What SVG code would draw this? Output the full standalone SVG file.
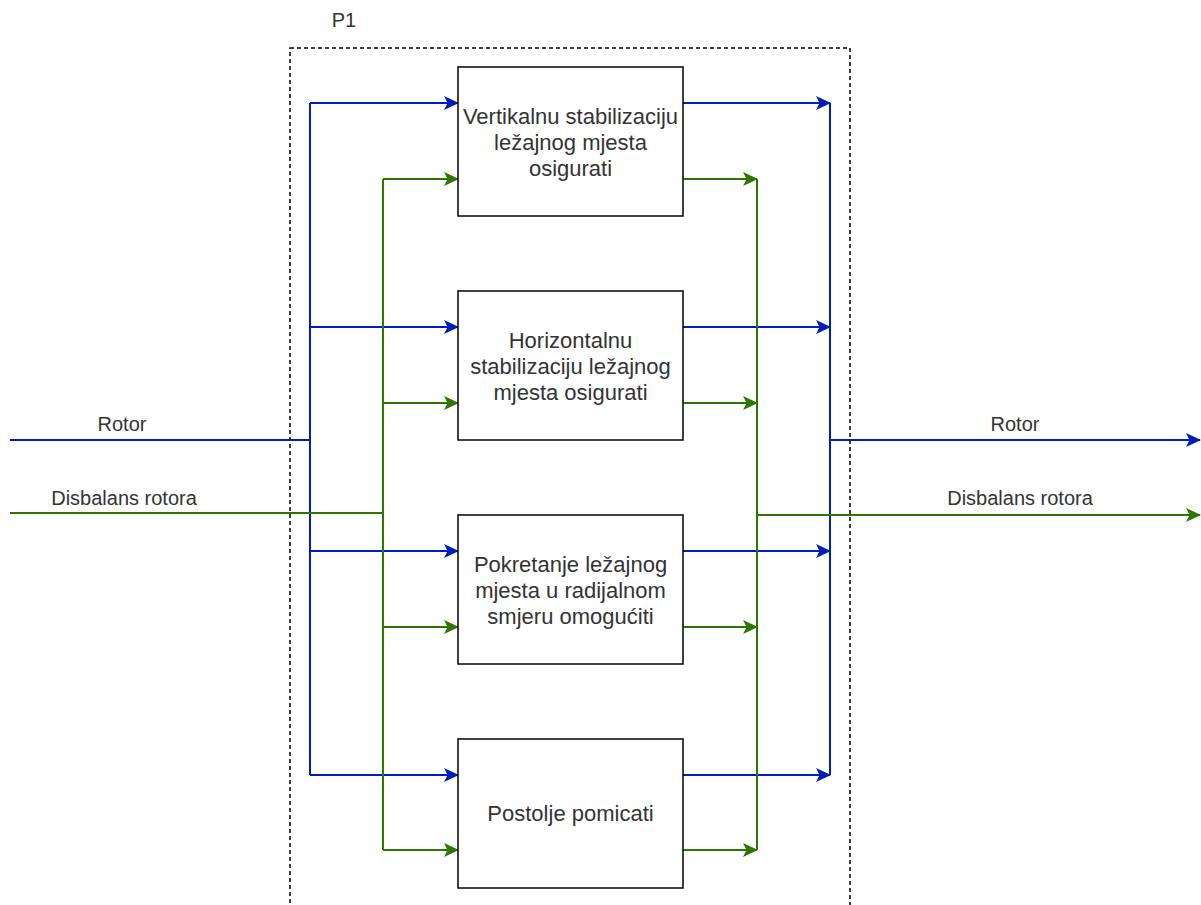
<svg xmlns="http://www.w3.org/2000/svg" width="1201" height="905" viewBox="0 0 1201 905">
<style>
.box{fill:#fff;stroke:#000;stroke-width:1.5}
.t{font-family:"Liberation Sans",Arial,sans-serif;font-size:22px;fill:#333;text-anchor:middle}
.l{font-family:"Liberation Sans",Arial,sans-serif;font-size:20px;fill:#333;text-anchor:middle}
.b{fill:none;stroke:#001DBC;stroke-width:2}
.g{fill:none;stroke:#2D7600;stroke-width:2}
</style>
<defs>
<marker id="ab" markerWidth="15" markerHeight="14" refX="14" refY="7" orient="auto" markerUnits="userSpaceOnUse" viewBox="0 0 15 14"><path d="M0,0 L15,7 L0,14 L3.5,7 Z" fill="#001DBC"/></marker>
<marker id="ag" markerWidth="15" markerHeight="14" refX="14" refY="7" orient="auto" markerUnits="userSpaceOnUse" viewBox="0 0 15 14"><path d="M0,0 L15,7 L0,14 L3.5,7 Z" fill="#2D7600"/></marker>
</defs>
<rect width="1201" height="905" fill="#fff"/>
<g id="p1">
<rect x="290" y="48" width="560" height="900" fill="none" stroke="#000" stroke-width="1.5" stroke-dasharray="4 3"/>
<text x="344" y="27" class="l">P1</text>
</g>
<g id="connectors">
<path class="b" d="M10,440 H310 M310,103 V775"/>
<path class="b" marker-end="url(#ab)" d="M310,103 H458"/>
<path class="b" marker-end="url(#ab)" d="M310,327 H458"/>
<path class="b" marker-end="url(#ab)" d="M310,551 H458"/>
<path class="b" marker-end="url(#ab)" d="M310,775 H458"/>
<path class="g" d="M10,513 H383 M383,179 V850"/>
<path class="g" marker-end="url(#ag)" d="M383,179 H458"/>
<path class="g" marker-end="url(#ag)" d="M383,403 H458"/>
<path class="g" marker-end="url(#ag)" d="M383,627 H458"/>
<path class="g" marker-end="url(#ag)" d="M383,850 H458"/>
<path class="b" d="M830,103 V775"/>
<path class="b" marker-end="url(#ab)" d="M683,103 H830"/>
<path class="b" marker-end="url(#ab)" d="M683,327 H830"/>
<path class="b" marker-end="url(#ab)" d="M683,551 H830"/>
<path class="b" marker-end="url(#ab)" d="M683,775 H830"/>
<path class="b" marker-end="url(#ab)" d="M830,440 H1200"/>
<path class="g" d="M757,179 V850"/>
<path class="g" marker-end="url(#ag)" d="M683,179 H757"/>
<path class="g" marker-end="url(#ag)" d="M683,403 H757"/>
<path class="g" marker-end="url(#ag)" d="M683,627 H757"/>
<path class="g" marker-end="url(#ag)" d="M683,850 H757"/>
<path class="g" marker-end="url(#ag)" d="M757,515 H1200"/>
<text x="122" y="431" class="l">Rotor</text>
<text x="124" y="505" class="l">Disbalans rotora</text>
<text x="1015" y="431" class="l">Rotor</text>
<text x="1020" y="505" class="l">Disbalans rotora</text>
</g>
<g id="n1">
<rect class="box" x="458" y="67" width="225" height="149"/>
<text class="t" x="570.5" y="124">Vertikalnu stabilizaciju</text>
<text class="t" x="570.5" y="150">ležajnog mjesta</text>
<text class="t" x="570.5" y="176">osigurati</text>
</g>
<g id="n2">
<rect class="box" x="458" y="291" width="225" height="149"/>
<text class="t" x="570.5" y="348">Horizontalnu</text>
<text class="t" x="570.5" y="374">stabilizaciju ležajnog</text>
<text class="t" x="570.5" y="400">mjesta osigurati</text>
</g>
<g id="n3">
<rect class="box" x="458" y="515" width="225" height="149"/>
<text class="t" x="570.5" y="572">Pokretanje ležajnog</text>
<text class="t" x="570.5" y="598">mjesta u radijalnom</text>
<text class="t" x="570.5" y="624">smjeru omogućiti</text>
</g>
<g id="n4">
<rect class="box" x="458" y="739" width="225" height="149"/>
<text class="t" x="570.5" y="821">Postolje pomicati</text>
</g>
</svg>
